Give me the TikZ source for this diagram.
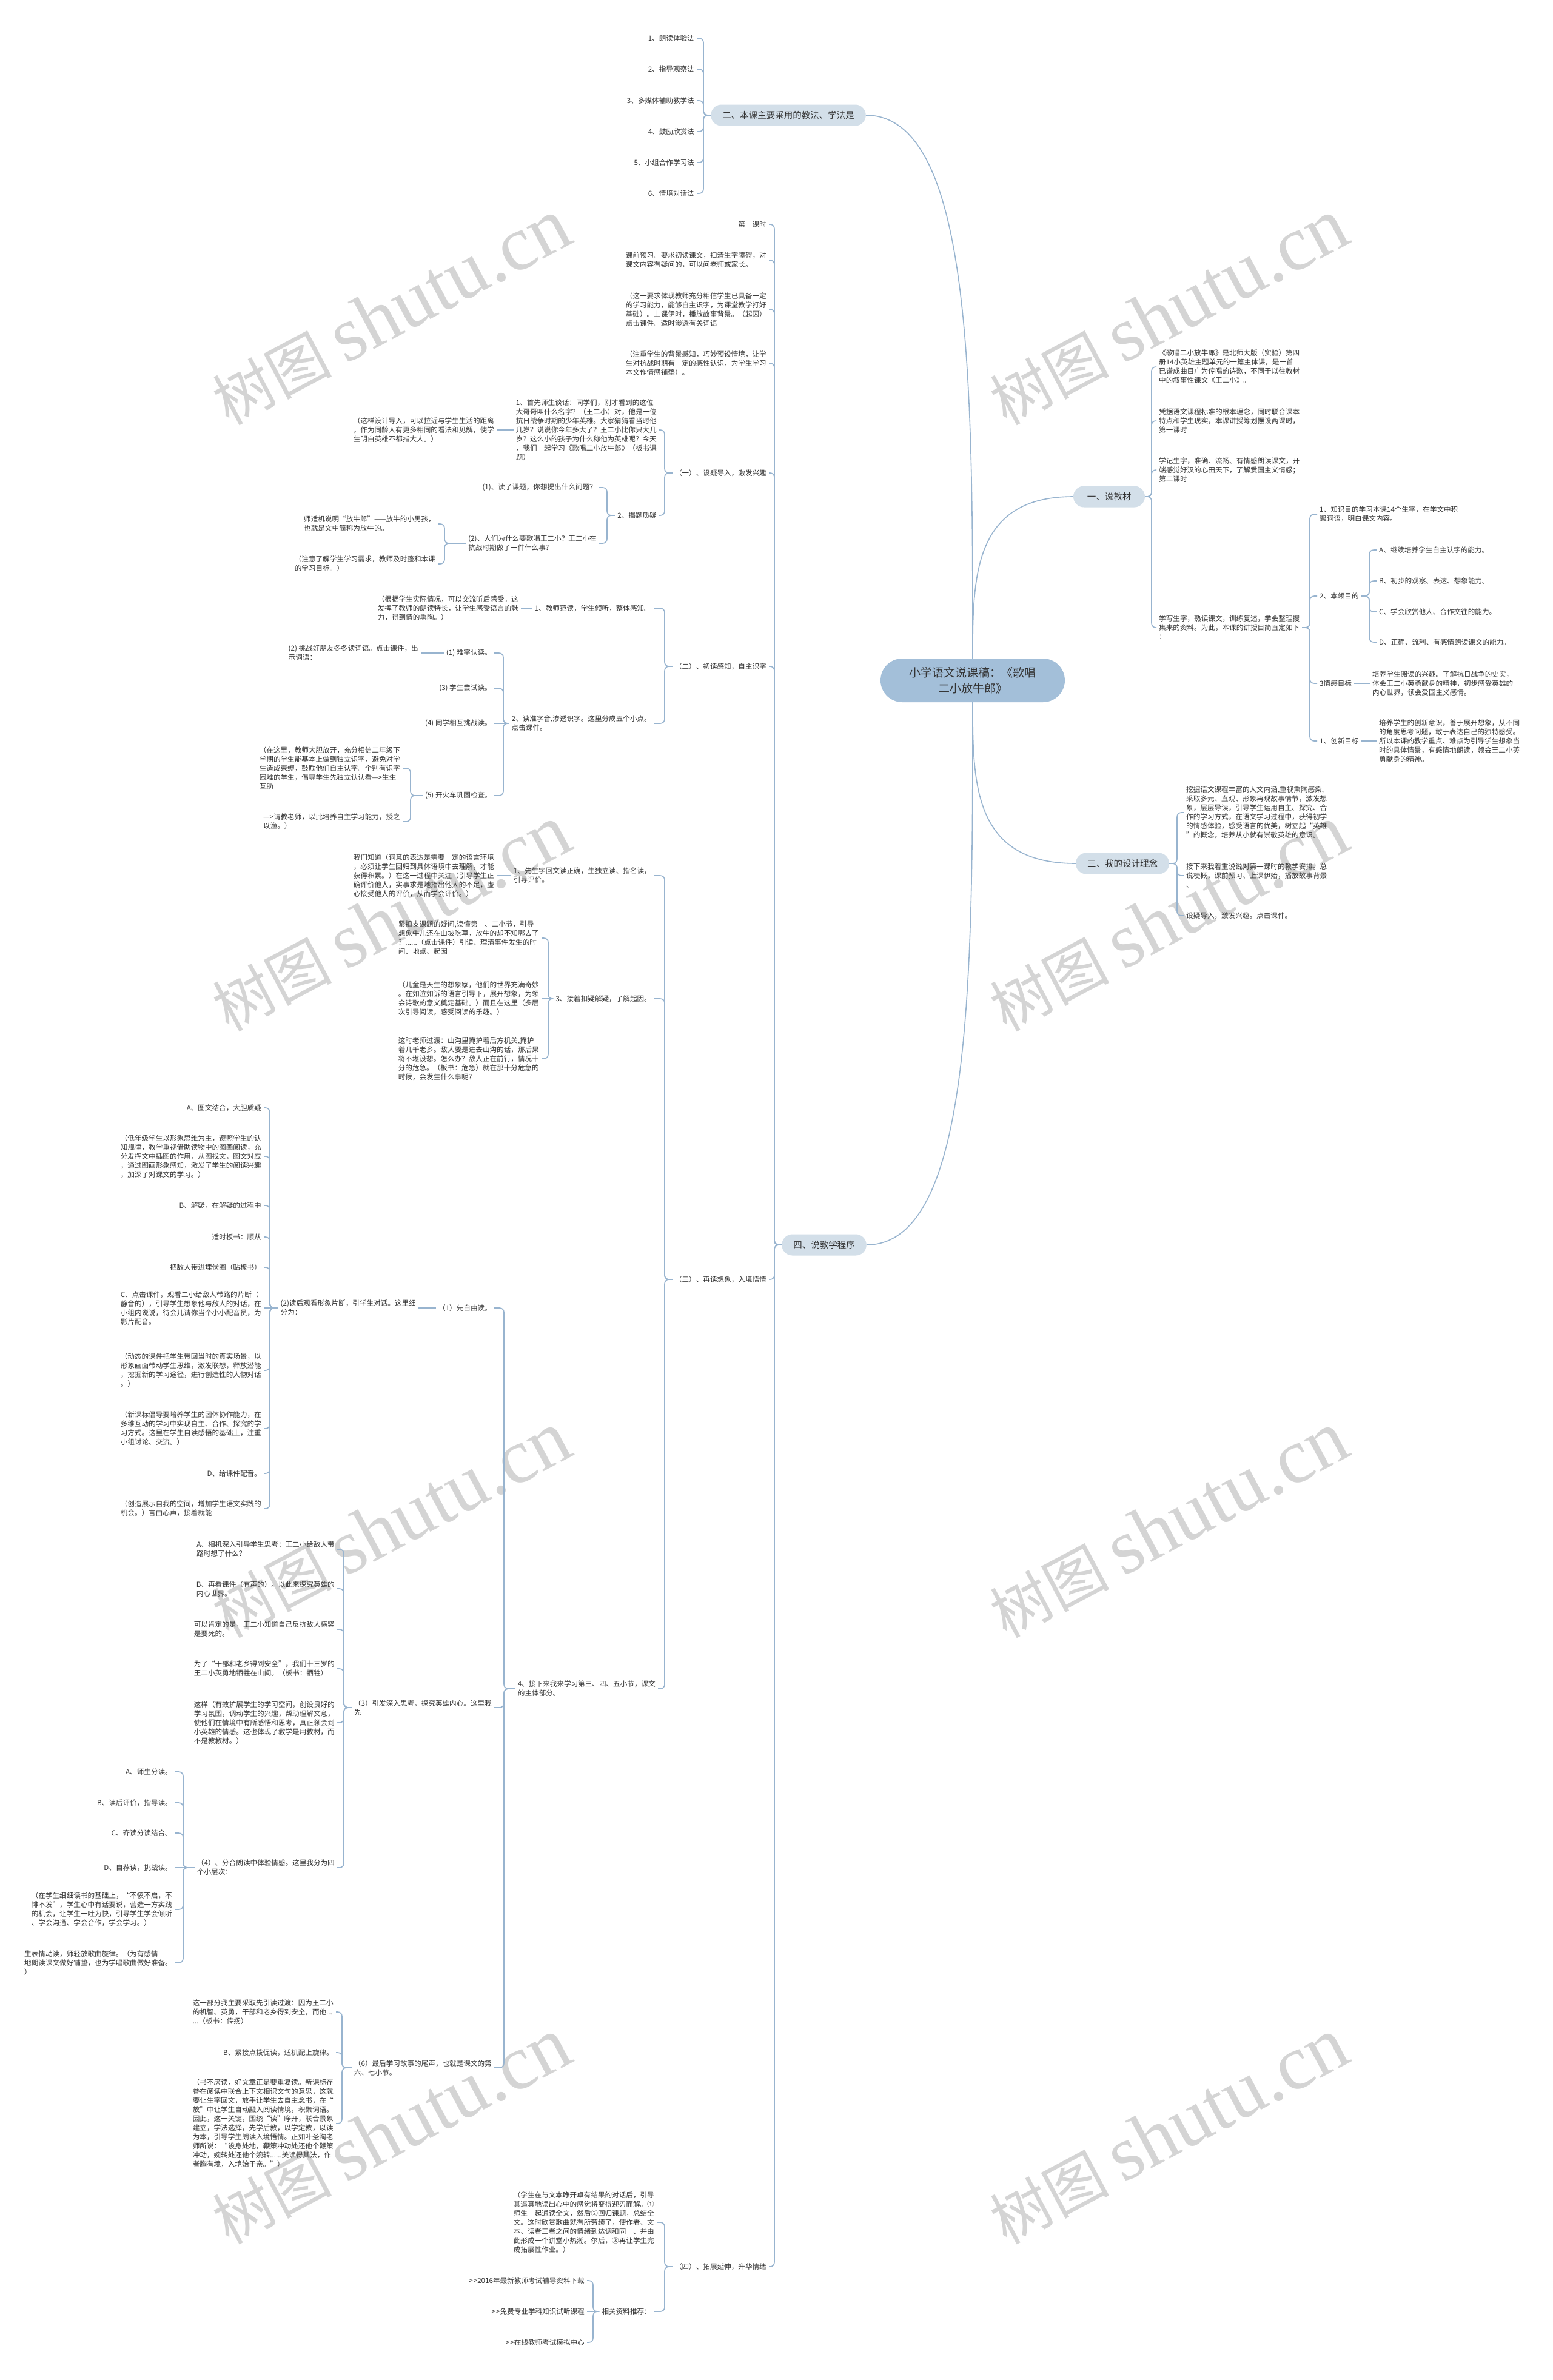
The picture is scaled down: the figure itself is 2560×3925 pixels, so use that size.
\documentclass[tikz,border=0pt]{standalone}
\usepackage{fontspec}
\newfontfamily\cjk{Noto Sans CJK SC}
\newfontfamily\wmserif{Liberation Serif}
\usetikzlibrary{calc}
\definecolor{linec}{HTML}{98B4CF}
\definecolor{txt}{HTML}{333333}
\definecolor{rootfill}{HTML}{A3BFD9}
\definecolor{lonefill}{HTML}{D3DFE9}
\definecolor{wmc}{HTML}{D4D4D4}
\newcommand\lkL[3]{\draw[conn] (#1.west) -- (#1.west -| #3,0) |- (#2.east);}
\newcommand\lkR[3]{\draw[conn] (#1.east) -- (#1.east -| #3,0) |- (#2.west);}
\begin{document}
\begin{tikzpicture}[x=1pt,y=-1pt,
  every node/.style={text=txt},
  tx/.style={font=\cjk\fontsize{11.6}{15}\selectfont, align=left, inner xsep=4pt, inner ysep=2pt},
  tl/.style={tx, anchor=east},
  tr/.style={tx, anchor=west},
  lone/.style={font=\cjk\fontsize{14.5}{18}\selectfont, fill=lonefill, rounded corners=17.5pt, minimum height=35pt, inner xsep=19pt, inner ysep=0pt},
  rootn/.style={font=\cjk\fontsize{19}{26}\selectfont, fill=rootfill, rounded corners=36pt, minimum width=304pt, minimum height=72pt, align=center},
  conn/.style={draw=linec, line width=1.6pt, rounded corners=7pt},
  rconn/.style={draw=linec, line width=1.6pt},
  wmk/.style={rotate=28, text=wmc, inner sep=0pt}
]
\fill[white] (0,0) rectangle (2560,3925);
\useasboundingbox (0,0) rectangle (2560,3925);

% watermarks
\foreach \wx/\wy [count=\i] in {645/515, 1927/515, 645/1515, 1927/1515, 645/2515, 1927/2515, 645/3515, 1927/3515}
  {\node[wmk] (wm\i) at (\wx,\wy) {{\cjk\fontsize{98}{98}\selectfont 树图}\hspace{22pt}{\wmserif\fontsize{128}{128}\selectfont shutu.cn}};}

% root and main branches
\node[rootn] (R) at (1604,1122) {小学语文说课稿：《歌唱\\二小放牛郎》};
\node[lone] (A) at (1300,190) {二、本课主要采用的教法、学法是};
\node[lone, minimum width=118pt] (B) at (1829,819) {一、说教材};
\node[lone] (C) at (1851,1424) {三、我的设计理念};
\node[lone] (D) at (1359,2053) {四、说教学程序};

\draw[rconn] (R.north) .. controls ($(R.north)!0.5!(R.north |- A.east)$) and (R.north |- A.east) .. (A.east);
\draw[rconn] (R.north) .. controls ($(R.north)!0.5!(R.north |- B.west)$) and (R.north |- B.west) .. (B.west);
\draw[rconn] (R.south) .. controls ($(R.south)!0.5!(R.south |- C.west)$) and (R.south |- C.west) .. (C.west);
\draw[rconn] (R.south) .. controls ($(R.south)!0.5!(R.south |- D.east)$) and (R.south |- D.east) .. (D.east);

% ===== 二 =====
\node[tl] (a1) at (1149,63) {1、朗读体验法};
\node[tl] (a2) at (1149,114) {2、指导观察法};
\node[tl] (a3) at (1149,166) {3、多媒体辅助教学法};
\node[tl] (a4) at (1149,217) {4、鼓励欣赏法};
\node[tl] (a5) at (1149,268) {5、小组合作学习法};
\node[tl] (a6) at (1149,319) {6、情境对话法};
\foreach \c in {a1,a2,a3,a4,a5,a6} {\lkL{A}{\c}{1160}}

% ===== 一 =====
\node[tr] (b1) at (1907,605) {《歌唱二小放牛郎》是北师大版（实验）第四\\册14小英雄主题单元的一篇主体课，是一首\\已谱成曲目广为传唱的诗歌，不同于以往教材\\中的叙事性课文《王二小》。};
\node[tr] (b2) at (1907,694) {凭据语文课程标准的根本理念，同时联合课本\\特点和学生现实，本课讲授筹划摆设两课时，\\第一课时};
\node[tr] (b3) at (1907,775) {学记生字，准确、流畅、有情感朗读课文，开\\端感觉好汉的心田天下，了解爱国主义情感；\\第二课时};
\node[tr] (b4) at (1907,1035) {学写生字，熟读课文，训练复述，学会整理搜\\集来的资料。为此，本课的讲授目简直定如下\\：};
\foreach \c in {b1,b2,b3,b4} {\lkR{B}{\c}{1899}}
\node[tr] (b41) at (2172,848) {1、知识目的学习本课14个生字，在学文中积\\聚词语，明白课文内容。};
\node[tr] (b42) at (2172,983) {2、本领目的};
\node[tr] (b43) at (2172,1127) {3情感目标};
\node[tr] (b44) at (2172,1222) {1、创新目标};
\foreach \c in {b41,b42,b43,b44} {\lkR{b4}{\c}{2160}}
\node[tr] (bA) at (2270,907) {A、继续培养学生自主认字的能力。};
\node[tr] (bB) at (2270,958) {B、初步的观察、表达、想象能力。};
\node[tr] (bC) at (2270,1009) {C、学会欣赏他人、合作交往的能力。};
\node[tr] (bD) at (2270,1059) {D、正确、流利、有感情朗读课文的能力。};
\foreach \c in {bA,bB,bC,bD} {\lkR{b42}{\c}{2258}}
\node[tr] (b43c) at (2259,1127) {培养学生阅读的兴趣。了解抗日战争的史实，\\体会王二小英勇献身的精神，初步感受英雄的\\内心世界，领会爱国主义感情。};
\draw[conn] (b43.east) -- (b43c.west);
\node[tr] (b44c) at (2270,1222) {培养学生的创新意识，善于展开想象，从不同\\的角度思考问题，敢于表达自己的独特感受。\\所以本课的教学重点、难点为引导学生想象当\\时的具体情景，有感情地朗读，领会王二小英\\勇献身的精神。};
\draw[conn] (b44.east) -- (b44c.west);

% ===== 三 =====
\node[tr] (c1) at (1952,1340) {挖掘语文课程丰富的人文内涵,重视熏陶感染,\\采取多元、直观、形象再现故事情节，激发想\\象，层层导读，引导学生运用自主、探究、合\\作的学习方式，在语文学习过程中，获得初学\\的情感体验，感受语言的优美，树立起“英雄\\”的概念，培养从小就有崇敬英雄的意识。};
\node[tr] (c2) at (1952,1444) {接下来我着重说说对第一课时的教学安排。总\\说梗概，课前预习、上课伊始，播放故事背景\\、};
\node[tr] (c3) at (1952,1510) {设疑导入，激发兴趣。点击课件。};
\foreach \c in {c1,c2,c3} {\lkR{C}{\c}{1941}}

% ===== 四 =====
\node[tl] (d0) at (1268,370) {第一课时};
\node[tl] (d1) at (1268,429) {课前预习。要求初读课文，扫清生字障碍，对\\课文内容有疑问的，可以问老师或家长。};
\node[tl] (d2) at (1268,510) {（这一要求体现教师充分相信学生已具备一定\\的学习能力，能够自主识字，为课堂教学打好\\基础）。上课伊时，播放故事背景。（起因）\\点击课件。适时渗透有关词语};
\node[tl] (d3) at (1268,599) {（注重学生的背景感知，巧妙预设情境，让学\\生对抗战时期有一定的感性认识，为学生学习\\本文作情感铺垫）。};
\node[tl] (d4) at (1268,780) {（一）、设疑导入，激发兴趣};
\node[tl] (d5) at (1268,1099) {（二）、初读感知，自主识字};
\node[tl] (d6) at (1268,2110) {（三）、再读想象，入境悟情};
\node[tl] (d7) at (1268,3738) {（四）、拓展延伸，升华情绪};
\foreach \c in {d0,d1,d2,d3,d4,d5,d6,d7} {\lkL{D}{\c}{1277}}

% (一)
\node[tl] (d41) at (1087,709) {1、首先师生谈话：同学们，刚才看到的这位\\大哥哥叫什么名字？（王二小）对，他是一位\\抗日战争时期的少年英雄。大家猜猜看当时他\\几岁？说说你今年多大了？王二小比你只大几\\岁？这么小的孩子为什么称他为英雄呢？今天\\，我们一起学习《歌唱二小放牛郎》（板书课\\题）};
\node[tl] (d42) at (1087,850) {2、揭题质疑};
\foreach \c in {d41,d42} {\lkL{d4}{\c}{1096}}
\node[tl] (d41c) at (819,709) {（这样设计导入，可以拉近与学生生活的距离\\，作为同龄人有更多相同的看法和见解，使学\\生明白英雄不都指大人。）};
\draw[conn] (d41.west) -- (d41c.east);
\node[tl] (d421) at (988,804) {(1)、读了课题，你想提出什么问题？};
\node[tl] (d422) at (988,896) {(2)、人们为什么要歌唱王二小？王二小在\\抗战时期做了一件什么事?};
\foreach \c in {d421,d422} {\lkL{d42}{\c}{1001}}
\node[tl] (d4221) at (722,864) {师适机说明“放牛郎”——放牛的小男孩，\\也就是文中简称为放牛的。};
\node[tl] (d4222) at (722,930) {（注意了解学生学习需求，教师及时整和本课\\的学习目标。）};
\foreach \c in {d4221,d4222} {\lkL{d422}{\c}{733}}

% (二)
\node[tl] (d51) at (1078,1003) {1、教师范读，学生倾听，整体感知。};
\node[tl] (d52) at (1078,1193) {2、读准字音,渗透识字。这里分成五个小点。\\点击课件。};
\foreach \c in {d51,d52} {\lkL{d5}{\c}{1096}}
\node[tl] (d51c) at (859,1003) {（根据学生实际情况，可以交流听后感受。这\\发挥了教师的朗读特长，让学生感受语言的魅\\力，得到情的熏陶。）};
\draw[conn] (d51.west) -- (d51c.east);
\node[tl] (d521) at (815,1077) {(1) 难字认读。};
\node[tl] (d522) at (815,1135) {(3) 学生尝试读。};
\node[tl] (d523) at (815,1193) {(4) 同学相互挑战读。};
\node[tl] (d524) at (815,1312) {(5) 开火车巩固检查。};
\foreach \c in {d521,d522,d524} {\lkL{d52}{\c}{830}}
\draw[conn] (d52.west) -- (d523.east);
\node[tl] (d521c) at (694,1077) {(2) 挑战好朋友冬冬读词语。点击课件，出\\示词语：};
\draw[conn] (d521.west) -- (d521c.east);
\node[tl] (d5241) at (664,1267) {（在这里，教师大胆放开，充分相信二年级下\\学期的学生能基本上做到独立识字，避免对学\\生造成束缚，鼓励他们自主认字。个别有识字\\困难的学生，倡导学生先独立认认看—>生生\\互助};
\node[tl] (d5242) at (664,1355) {—>请教老师，以此培养自主学习能力，授之\\以渔。）};
\foreach \c in {d5241,d5242} {\lkL{d524}{\c}{677}}

% (三)
\node[tl] (d61) at (1078,1444) {1、先生字回文读正确，生独立读、指名读，\\引导评价。};
\node[tl] (d62) at (1078,1647) {3、接着扣疑解疑，了解起因。};
\node[tl] (d63) at (1085,2785) {4、接下来我来学习第三、四、五小节，课文\\的主体部分。};
\foreach \c in {d61,d62,d63} {\lkL{d6}{\c}{1096}}
\node[tl] (d61c) at (819,1444) {我们知道（词意的表达是需要一定的语言环境\\，必须让学生回归到具体语境中去理解，才能\\获得积累。）在这一过程中关注（引导学生正\\确评价他人，实事求是地指出他人的不足，虚\\心接受他人的评价，从而学会评价。）};
\draw[conn] (d61.west) -- (d61c.east);
\node[tl] (d621) at (893,1547) {紧扣支课题的疑问,读懂第一、二小节，引导\\想象牛儿还在山坡吃草，放牛的却不知哪去了\\？......（点击课件）引读、理清事件发生的时\\间、地点、起因};
\node[tl] (d622) at (893,1647) {（儿童是天生的想象家，他们的世界充满奇妙\\。在如泣如诉的语言引导下，展开想象，为领\\会诗歌的意义奠定基础。）而且在这里（多层\\次引导阅读，感受阅读的乐趣。）};
\node[tl] (d623) at (893,1746) {这时老师过渡：山沟里掩护着后方机关,掩护\\着几千老乡。敌人要是进去山沟的话，那后果\\将不堪设想。怎么办？敌人正在前行，情况十\\分的危急。（板书：危急）就在那十分危急的\\时候，会发生什么事呢?};
\foreach \c in {d621,d623} {\lkL{d62}{\c}{904}}
\draw[conn] (d62.west) -- (d622.east);

% 4、 children
\node[tl] (p1) at (815,2157) {（1）先自由读。};
\node[tl] (p3) at (815,2816) {（3）引发深入思考，探究英雄内心。这里我\\先};
\node[tl] (p6) at (815,3410) {（6）最后学习故事的尾声，也就是课文的第\\六、七小节。};
\foreach \c in {p1,p3,p6} {\lkL{d63}{\c}{831}}
\node[tl] (p1c) at (690,2157) {(2)读后观看形象片断，引学生对话。这里细\\分为：};
\draw[conn] (p1.west) -- (p1c.east);
\node[tl] (e1) at (435,1827) {A、图文结合，大胆质疑};
\node[tl] (e2) at (435,1907) {（低年级学生以形象思维为主，遵照学生的认\\知规律，教学重视借助读物中的图画阅读，充\\分发挥文中插图的作用，从图找文，图文对应\\，通过图画形象感知，激发了学生的阅读兴趣\\，加深了对课文的学习。）};
\node[tl] (e3) at (435,1988) {B、解疑，在解疑的过程中};
\node[tl] (e4) at (435,2040) {适时板书：顺从};
\node[tl] (e5) at (435,2090) {把敌人带进埋伏圈（贴板书）};
\node[tl] (e6) at (435,2157) {C、点击课件，观看二小给敌人带路的片断（\\静音的），引导学生想象他与敌人的对话，在\\小组内说说，待会儿请你当个小小配音员，为\\影片配音。};
\node[tl] (e7) at (435,2260) {（动态的课件把学生带回当时的真实场景，以\\形象画面带动学生思维，激发联想，释放潜能\\，挖掘新的学习途径，进行创造性的人物对话\\。）};
\node[tl] (e8) at (435,2356) {（新课标倡导要培养学生的团体协作能力，在\\多维互动的学习中实现自主、合作、探究的学\\习方式。这里在学生自读感悟的基础上，注重\\小组讨论、交流。）};
\node[tl] (e9) at (435,2430) {D、给课件配音。};
\node[tl] (e10) at (435,2488) {（创造展示自我的空间，增加学生语文实践的\\机会。）言由心声，接着就能};
\foreach \c in {e1,e2,e3,e4,e5,e7,e8,e9,e10} {\lkL{p1c}{\c}{445}}
\draw[conn] (p1c.west) -- (e6.east);

\node[tl] (f1) at (556,2555) {A、相机深入引导学生思考：王二小给敌人带\\路时想了什么？};
\node[tl] (f2) at (556,2620) {B、再看课件（有声的）。以此来探究英雄的\\内心世界。};
\node[tl] (f3) at (556,2687) {可以肯定的是，王二小知道自己反抗敌人横竖\\是要死的。};
\node[tl] (f4) at (556,2752) {为了“干部和老乡得到安全”，我们十三岁的\\王二小英勇地牺牲在山间。（板书：牺牲）};
\node[tl] (f5) at (556,2841) {这样（有效扩展学生的学习空间，创设良好的\\学习氛围，调动学生的兴趣，帮助理解文意，\\使他们在情境中有所感悟和思考，真正领会到\\小英雄的情感。这也体现了教学是用教材，而\\不是教教材。）};
\node[tl] (f6) at (556,3080) {（4）、分合朗读中体验情感。这里我分为四\\个小层次：};
\foreach \c in {f1,f2,f3,f4,f5,f6} {\lkL{p3}{\c}{567}}
\node[tl] (g1) at (288,2922) {A、师生分读。};
\node[tl] (g2) at (288,2973) {B、读后评价，指导读。};
\node[tl] (g3) at (288,3023) {C、齐读分读结合。};
\node[tl] (g4) at (288,3080) {D、自荐读，挑战读。};
\node[tl] (g5) at (288,3149) {（在学生细细读书的基础上，“不愤不启，不\\悱不发”，学生心中有话要说，营造一方实践\\的机会，让学生一吐为快，引导学生学会倾听\\、学会沟通、学会合作，学会学习。）};
\node[tl] (g6) at (288,3237) {生表情动读，师轻放歌曲旋律。（为有感情\\地朗读课文做好铺垫，也为学唱歌曲做好准备。\\）};
\foreach \c in {g1,g2,g3,g5,g6} {\lkL{f6}{\c}{302}}
\draw[conn] (f6.west) -- (g4.east);

\node[tl] (h1) at (554,3318) {这一部分我主要采取先引读过渡：因为王二小\\的机智、英勇，干部和老乡得到安全，而他...\\...（板书：传扬）};
\node[tl] (h2) at (554,3385) {B、紧接点拨促读，适机配上旋律。};
\node[tl] (h3) at (554,3502) {（书不厌读，好文章正是要重复读。新课标存\\眷在阅读中联合上下文相识文句的意思，这就\\要让生字回文，放手让学生去自主念书，在“\\放”中让学生自动融入阅读情境，积聚词语。\\因此，这一关键，围绕“读”睁开，联合景象\\建立，学法选择，先学后教，以学定教，以读\\为本，引导学生朗读入境悟情。正如叶圣陶老\\师所说：“设身处地，鞭策冲动处还他个鞭策\\冲动，婉转处还他个婉转......美读得其法，作\\者胸有境，入境始于亲。”）};
\foreach \c in {h1,h2,h3} {\lkL{p6}{\c}{564}}

% (四)
\node[tl] (k1) at (1083,3665) {（学生在与文本睁开卓有结果的对话后，引导\\其逼真地读出心中的感觉将变得迎刃而解。①\\师生一起通读全文，然后②回归课题，总结全\\文。这时欣赏歌曲就有所劳绩了，使作者、文\\本、读者三者之间的情绪到达调和同一、并由\\此形成一个讲堂小热潮。尔后，③再让学生完\\成拓展性作业。）};
\node[tl] (k2) at (1078,3812) {相关资料推荐：};
\foreach \c in {k1,k2} {\lkL{d7}{\c}{1096}}
\node[tl] (m1) at (968,3761) {>\kern1pt>2016年最新教师考试辅导资料下载};
\node[tl] (m2) at (968,3812) {>\kern1pt>免费专业学科知识试听课程};
\node[tl] (m3) at (968,3863) {>\kern1pt>在线教师考试模拟中心};
\foreach \c in {m1,m3} {\lkL{k2}{\c}{978}}
\draw[conn] (k2.west) -- (m2.east);
\end{tikzpicture}
\end{document}
